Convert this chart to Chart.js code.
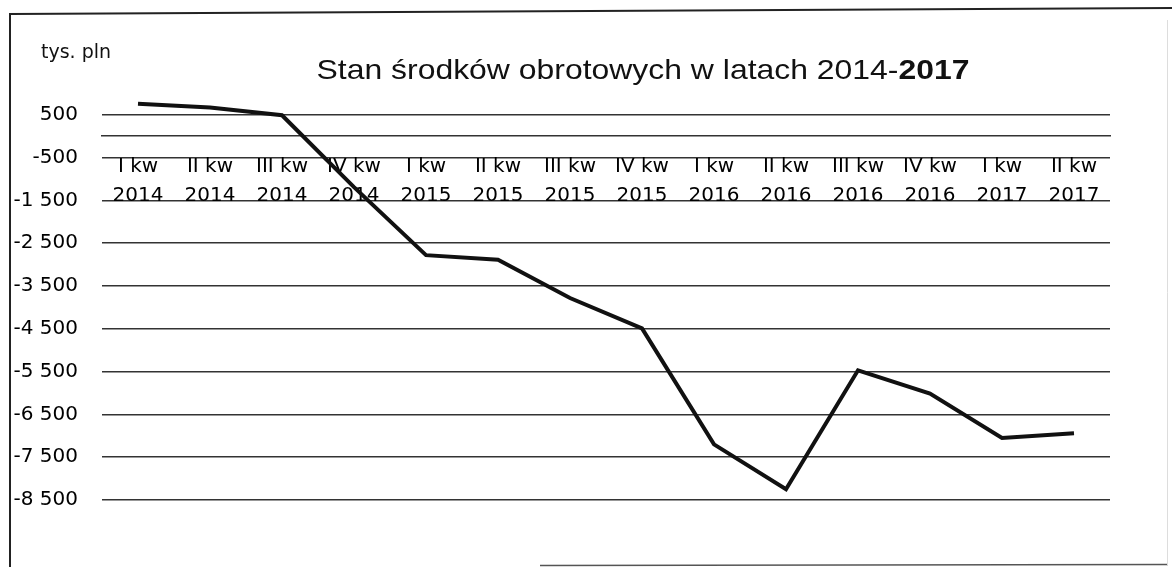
<!DOCTYPE html>
<html>
<head>
<meta charset="utf-8">
<style>
  html, body { margin: 0; padding: 0; background: #ffffff; }
  #wrap { position: relative; width: 1172px; height: 567px; }
  canvas { display: block; }
</style>
<script src="https://cdn.jsdelivr.net/npm/chart.js@4.4.1/dist/chart.umd.min.js"></script>
</head>
<body>
<div id="wrap"><canvas id="c" width="1172" height="567"></canvas></div>
<script>
// ---- data ----
const quarters = ['I kw', 'II kw', 'III kw', 'IV kw', 'I kw', 'II kw', 'III kw', 'IV kw', 'I kw', 'II kw', 'III kw', 'IV kw', 'I kw', 'II kw'];
const years = ['2014', '2014', '2014', '2014', '2015', '2015', '2015', '2015', '2016', '2016', '2016', '2016', '2017', '2017'];
const values = [757, 670, 490, -1190, -2780, -2885, -3780, -4490, -7200, -8250, -5470, -6015, -7050, -6940];
const yTicks = [500, -500, -1500, -2500, -3500, -4500, -5500, -6500, -7500, -8500];
const yMin = -9225;
const yMax = 1500;
const titleMain = 'Stan środków obrotowych w latach 2014-';
const titleBold = '2017';
const unitLabel = 'tys. pln';

function fmt(v) {
  const s = Math.abs(v).toString().replace(/\B(?=(\d{3})+(?!\d))/g, ' ');
  return (v < 0 ? '-' : '') + s;
}

const decorPlugin = {
  id: 'decor',
  beforeDraw(chart) {
    const ctx = chart.ctx;
    ctx.save();
    ctx.fillStyle = '#ffffff';
    ctx.fillRect(0, 0, chart.width, chart.height);
    // scanned frame
    ctx.strokeStyle = '#222';
    ctx.lineWidth = 2;
    ctx.beginPath();
    ctx.moveTo(10, 567); ctx.lineTo(10, 14); ctx.lineTo(1172, 8);
    ctx.stroke();
    ctx.strokeStyle = '#555';
    ctx.lineWidth = 1.5;
    ctx.beginPath();
    ctx.moveTo(540, 565.5); ctx.lineTo(1168, 564.5);
    ctx.stroke();
    ctx.strokeStyle = '#ddd';
    ctx.lineWidth = 1;
    ctx.beginPath();
    ctx.moveTo(1167.5, 20); ctx.lineTo(1167.5, 565);
    ctx.stroke();
    ctx.restore();
  },
  afterDraw(chart) {
    const ctx = chart.ctx;
    ctx.save();
    // unit label
    ctx.fillStyle = '#111';
    ctx.font = '19px "DejaVu Sans"';
    ctx.textAlign = 'left';
    ctx.textBaseline = 'alphabetic';
    ctx.fillText(unitLabel, 41, 58);
    // title, mixed weight
    const fMain = '28px "Liberation Sans"';
    const fBold = 'bold 28px "Liberation Sans"';
    ctx.font = fMain;
    const w1 = ctx.measureText(titleMain).width;
    ctx.font = fBold;
    const w2 = ctx.measureText(titleBold).width;
    const target = 653;
    const sx = target / (w1 + w2);
    ctx.translate(643 - target / 2, 79);
    ctx.scale(sx, 1);
    ctx.fillStyle = '#111';
    ctx.font = fMain;
    ctx.fillText(titleMain, 0, 0);
    ctx.font = fBold;
    ctx.fillText(titleBold, w1, 0);
    ctx.restore();
  }
};

new Chart(document.getElementById('c').getContext('2d'), {
  type: 'line',
  data: {
    labels: quarters.map((q, i) => [q, years[i]]),
    datasets: [{
      data: values,
      borderColor: '#111',
      borderWidth: 4,
      pointRadius: 0,
      tension: 0,
      fill: false
    }]
  },
  options: {
    responsive: false,
    animation: false,
    devicePixelRatio: 1,
    layout: { padding: { top: 72, bottom: 12, right: 62, left: 0 } },
    plugins: { legend: { display: false }, tooltip: { enabled: false }, title: { display: false } },
    scales: {
      x: {
        type: 'category',
        offset: true,
        position: { y: 0 },
        grid: { display: false },
        border: { display: true, color: '#333', width: 1.5 },
        ticks: {
          font: { family: 'DejaVu Sans', size: 20, lineHeight: 1.45 },
          color: '#000',
          padding: 8,
          maxRotation: 0,
          minRotation: 0,
          autoSkip: false
        }
      },
      y: {
        min: yMin,
        max: yMax,
        afterBuildTicks: (s) => { s.ticks = yTicks.map(v => ({ value: v })); },
        afterFit: (s) => { s.width = 102; },
        grid: { color: '#333', lineWidth: 1.5, drawTicks: false },
        border: { display: false },
        ticks: {
          font: { family: 'DejaVu Sans', size: 20 },
          color: '#000',
          padding: 24,
          callback: (v) => fmt(v)
        }
      }
    }
  },
  plugins: [decorPlugin]
});
</script>
</body>
</html>
